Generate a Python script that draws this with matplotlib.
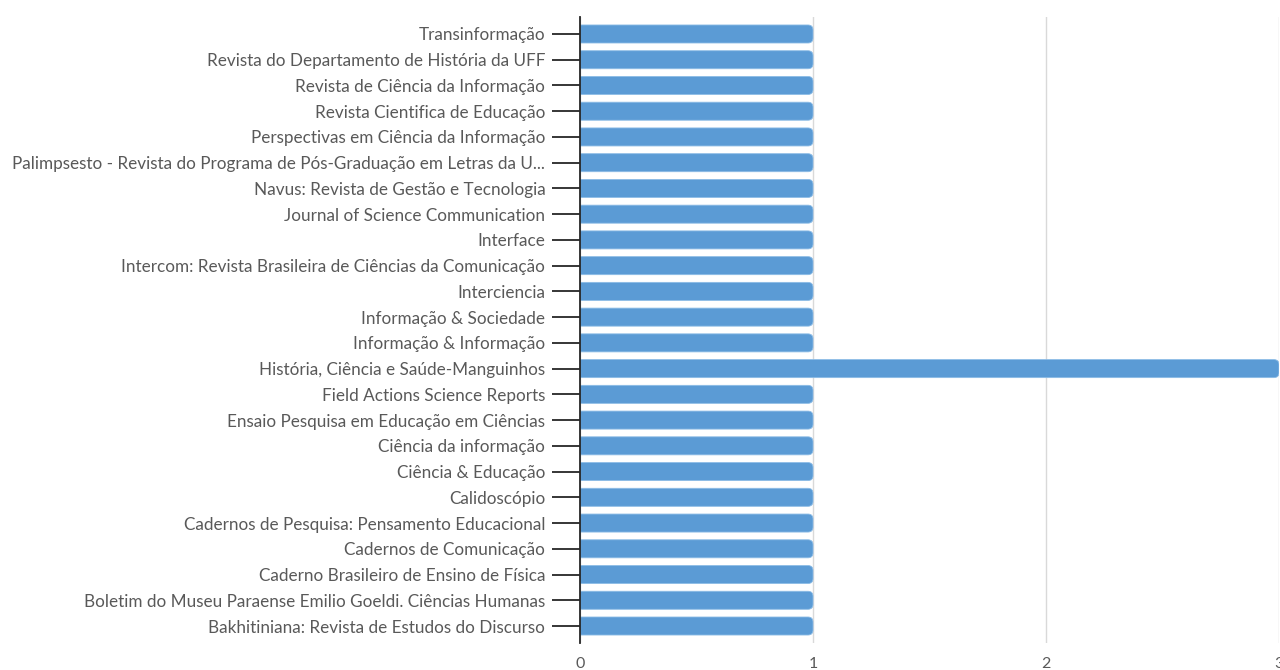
import matplotlib
matplotlib.use("Agg")
import matplotlib.pyplot as plt
from matplotlib.patches import FancyBboxPatch

journals = [
    "Transinformação",
    "Revista do Departamento de História da UFF",
    "Revista de Ciência da Informação",
    "Revista Cientifica de Educação",
    "Perspectivas em Ciência da Informação",
    "Palimpsesto - Revista do Programa de Pós-Graduação em Letras da U...",
    "Navus: Revista de Gestão e Tecnologia",
    "Journal of Science Communication",
    "Interface",
    "Intercom: Revista Brasileira de Ciências da Comunicação",
    "Interciencia",
    "Informação & Sociedade",
    "Informação & Informação",
    "História, Ciência e Saúde-Manguinhos",
    "Field Actions Science Reports",
    "Ensaio Pesquisa em Educação em Ciências",
    "Ciência da informação",
    "Ciência & Educação",
    "Calidoscópio",
    "Cadernos de Pesquisa: Pensamento Educacional",
    "Cadernos de Comunicação",
    "Caderno Brasileiro de Ensino de Física",
    "Boletim do Museu Paraense Emilio Goeldi. Ciências Humanas",
    "Bakhitiniana: Revista de Estudos do Discurso",
]
counts = [1, 1, 1, 1, 1, 1, 1, 1, 1, 1, 1, 1, 1, 3, 1, 1, 1, 1, 1, 1, 1, 1, 1, 1]
xticks = [0, 1, 2, 3]

plt.rcParams['font.family'] = ['Lato', 'DejaVu Sans']

fig = plt.figure(figsize=(12.8, 6.7), dpi=100)
ax = fig.add_axes([580/1280, 1 - 643/670, 699/1280, (643 - 17)/670])

n = len(journals)
ypos = list(range(n - 1, -1, -1))
bar_h = 0.7
color = "#5b9bd5"

bars = ax.barh(ypos, counts, height=bar_h, color=color, alpha=0)

# rounded ends
x_unit_px = 699 / 3.0
y_unit_px = (643 - 17) / (n - 1 + 2 * 0.66)
r_px = 5
r_x = r_px / x_unit_px
aspect = x_unit_px / y_unit_px
for b in bars:
    w = b.get_width()
    y0 = b.get_y()
    h = b.get_height()
    p = FancyBboxPatch((-0.1, y0), w + 0.1, h,
                       boxstyle=f"round,pad=0,rounding_size={r_x}",
                       mutation_aspect=aspect,
                       facecolor=color, edgecolor="#8cbce6", linewidth=0.6,
                       zorder=3, clip_on=True)
    ax.add_patch(p)

ax.set_xlim(0, 3)
ax.set_ylim(-0.66, n - 1 + 0.66)
ax.set_yticks(ypos)
ax.set_yticklabels(journals)
ax.set_xticks(xticks)
ax.set_xticklabels([str(v) for v in xticks])

for s in ["top", "right", "bottom"]:
    ax.spines[s].set_visible(False)
ax.spines["left"].set_color("#262626")
ax.spines["left"].set_linewidth(1.3)
ax.spines["left"].set_zorder(4)

ax.xaxis.grid(True, color="#d9d9d9", linewidth=1.0)
ax.set_axisbelow(True)

ax.tick_params(axis="y", length=20, width=1.3, color="#262626", pad=5,
               labelsize=12.3, labelcolor="#595959")
ax.tick_params(axis="x", length=0, pad=10, labelsize=11.5, labelcolor="#595959")
for lab in ax.get_xticklabels():
    lab.set_clip_on(False)

fig.savefig("out.png", dpi=100, facecolor="white")
